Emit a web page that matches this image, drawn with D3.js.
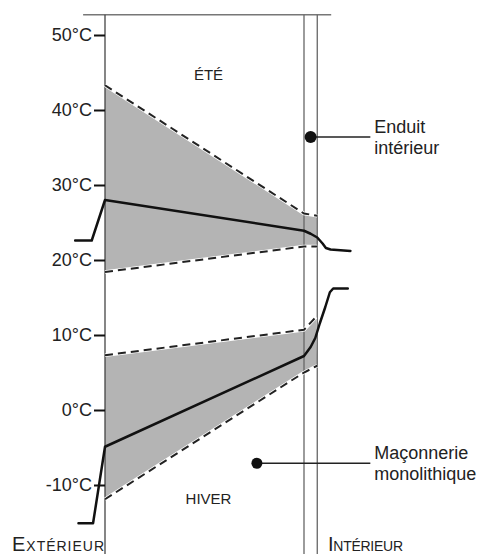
<!DOCTYPE html>
<html>
<head>
<meta charset="utf-8">
<script src="https://cdn.jsdelivr.net/npm/d3@7"></script>
<style>
    body { margin: 0; background: #fff; }
    svg { display: block; font-family: "Liberation Sans", Arial, sans-serif; }
</style>
</head>
<body>
<div id="chart"></div>
<script>
// positions across the wall in cm (0 = exterior face), temperatures in °C
const tempTicks = [-10, 0, 10, 20, 30, 40, 50];
const wallFaces = [0, 30, 32]; // exterior face, masonry / plaster, interior face

const summerHigh = [[0, 43.3], [30, 26.2], [32, 25.9]];
const summerLow = [[0, 18.4], [30, 21.8], [32, 21.8]];
const summerMean = [[-4.5, 22.6], [-2, 22.6], [0, 28], [30, 23.9], [31, 23.5], [32, 23],
    [32.8, 22.2], [33.3, 21.6], [34, 21.4], [37, 21.2]];

const winterHigh = [[0, 7.3], [30, 10.7], [31.8, 12.4]];
const winterLow = [[0, -11.9], [30, 5.0], [32, 5.9]];
const winterMean = [[-4, -15.1], [-1.8, -15.1], [0, -4.9], [30, 7.2], [31, 8.4], [31.7, 9.6],
    [32.4, 11.6], [33.2, 13.7], [33.9, 15.7], [34.4, 16.2], [36.6, 16.2]];

const seasons = ["ÉTÉ", "HIVER"];
const callouts = [["Enduit", "intérieur"], ["Maçonnerie", "monolithique"]];

document.addEventListener('DOMContentLoaded', function () {
    renderChart();
});

function renderChart() {
    const width = 481;
    const height = 554;

    const svg = d3.select("#chart")
        .append("svg")
        .attr("width", width)
        .attr("height", height);

    const x = d3.scaleLinear().domain([0, 30]).range([105, 304]);
    const y = d3.scaleLinear().domain([-10, 50]).range([485, 35]);

    const line = d3.line().x(d => x(d[0])).y(d => y(d[1]));
    const band = (hi, lo) => line.curve(d3.curveLinearClosed)(hi.concat(lo.slice().reverse()));

    // Grey envelopes
    [[summerHigh, summerLow], [winterHigh, winterLow]].forEach(p => {
        svg.append("path")
            .attr("d", band(p[0], p[1]))
            .style("fill", "#b4b4b4");
    });
    line.curve(d3.curveLinear);

    // Top rule and wall faces
    svg.append("line")
        .attr("x1", x(-3.3)).attr("x2", x(34.1))
        .attr("y1", y(52.7)).attr("y2", y(52.7))
        .style("stroke", "#777")
        .style("stroke-width", 1.3);

    svg.selectAll(".face")
        .data(wallFaces)
        .enter()
        .append("line")
        .attr("class", "face")
        .attr("x1", d => x(d)).attr("x2", d => x(d))
        .attr("y1", y(52.7)).attr("y2", height)
        .style("stroke", (d, i) => i === 0 ? "#444" : "#666")
        .style("stroke-width", 1.3);

    // Dashed min / max lines
    [summerHigh, summerLow, winterHigh, winterLow].forEach(s => {
        svg.append("path")
            .attr("d", line(s))
            .style("fill", "none")
            .style("stroke", "#fff")
            .style("stroke-width", 3.5);
        svg.append("path")
            .attr("d", line(s))
            .style("fill", "none")
            .style("stroke", "#222")
            .style("stroke-width", 2)
            .style("stroke-dasharray", "8,5");
    });

    // Mean temperature profiles
    [summerMean, winterMean].forEach(s => {
        svg.append("path")
            .attr("d", line(s))
            .style("fill", "none")
            .style("stroke", "#111")
            .style("stroke-width", 2.5)
            .style("stroke-linejoin", "round")
            .style("stroke-linecap", "round");
    });

    // Temperature axis
    const axis = svg.append("g")
        .attr("transform", `translate(${x(0)},0)`)
        .call(d3.axisLeft(y)
            .tickValues(tempTicks)
            .tickFormat(d => d + "°C")
            .tickSizeInner(11)
            .tickSizeOuter(0)
            .tickPadding(2));
    axis.select(".domain").remove();
    axis.selectAll(".tick line").style("stroke", "#111").style("stroke-width", 2);
    axis.selectAll(".tick text")
        .style("font-family", "Liberation Sans, Arial, sans-serif")
        .style("font-size", "18px")
        .style("fill", "#222");

    // Season labels
    svg.selectAll(".season")
        .data(seasons)
        .enter()
        .append("text")
        .attr("class", "season")
        .attr("x", x(15.6))
        .attr("y", (d, i) => i === 0 ? y(44) : y(-12.5))
        .style("text-anchor", "middle")
        .style("font-size", "15px")
        .style("fill", "#222")
        .text(d => d);

    // Callouts with leader dots
    const calloutPos = [[31, 36.4, 6], [22.9, -7.1, 5.5]];
    callouts.forEach((c, i) => {
        const p = calloutPos[i];
        svg.append("line")
            .attr("x1", x(p[0])).attr("x2", x(40))
            .attr("y1", y(p[1])).attr("y2", y(p[1]))
            .style("stroke", "#222")
            .style("stroke-width", 1.5);
        svg.append("circle")
            .attr("cx", x(p[0])).attr("cy", y(p[1]))
            .attr("r", p[2])
            .style("fill", "#111");
        const t = svg.append("text")
            .attr("x", x(40.6))
            .attr("y", y(p[1]) - 4)
            .style("font-size", "18px")
            .style("fill", "#222");
        c.forEach((s, k) => {
            t.append("tspan").attr("x", x(40.6)).attr("dy", k === 0 ? 0 : 21).text(s);
        });
    });

    // Side labels in small capitals
    const sides = [["E", "XTÉRIEUR", 12, 92], ["I", "NTÉRIEUR", 328, 75]];
    sides.forEach(s => {
        const t = svg.append("text")
            .attr("x", s[2])
            .attr("y", 551)
            .attr("textLength", s[3])
            .attr("lengthAdjust", "spacing")
            .style("fill", "#222");
        t.append("tspan").style("font-size", "20px").text(s[0]);
        t.append("tspan").style("font-size", "14px").text(s[1]);
    });
}
</script>
</body>
</html>
